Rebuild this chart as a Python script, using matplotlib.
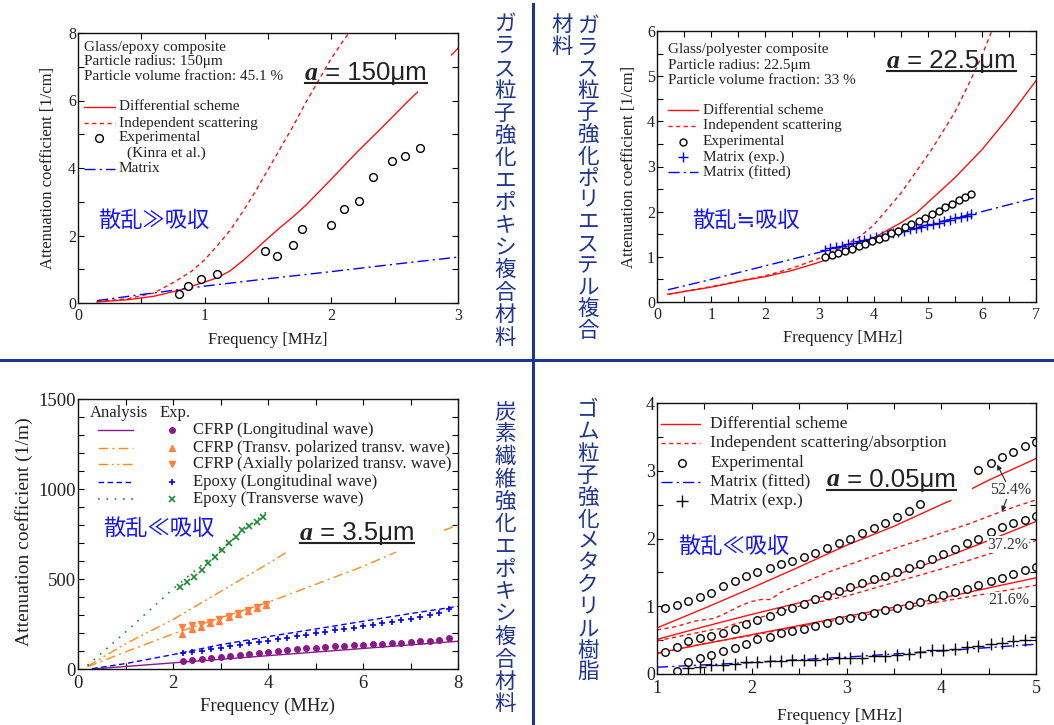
import numpy as np
import matplotlib
matplotlib.use("Agg")
import matplotlib.pyplot as plt
from matplotlib.lines import Line2D
from matplotlib.ticker import MultipleLocator

nan = np.nan

# ---- glass / epoxy (top left) ----
ge_exp_f = [0.80, 0.87, 0.97, 1.10, 1.48, 1.57, 1.70, 1.77, 2.00, 2.10, 2.22, 2.33, 2.48, 2.58, 2.70]
ge_exp_a = [0.27, 0.50, 0.70, 0.86, 1.55, 1.40, 1.72, 2.20, 2.30, 2.80, 3.03, 3.73, 4.20, 4.37, 4.58]
# line is hidden behind the size label between 2.7 and 2.95
ge_diff_f = [0.15, 0.4, 0.6, 0.8, 1.0, 1.1, 1.2, 1.3, 1.4, 1.5, 1.6, 1.7, 1.8, 2.0, 2.2, 2.4, 2.6, 2.68, nan, 2.95, 3.0]
ge_diff_a = [0.03, 0.10, 0.20, 0.38, 0.62, 0.75, 0.95, 1.25, 1.58, 1.92, 2.25, 2.56, 2.90, 3.67, 4.46, 5.20, 5.96, 6.25, nan, 7.35, 7.55]
ge_ind_f = [0.15, 0.4, 0.6, 0.76, 0.9, 1.0, 1.1, 1.2, 1.3, 1.4, 1.5, 1.6, 1.7, 1.8, 1.9, 2.0, 2.1, 2.16]
ge_ind_a = [0.04, 0.13, 0.30, 0.62, 0.95, 1.28, 1.70, 2.15, 2.70, 3.30, 3.95, 4.60, 5.25, 5.95, 6.60, 7.25, 7.80, 8.10]
ge_mat_f = [0.15, 0.5, 1.0, 1.5, 2.0, 2.5, 3.0]
ge_mat_a = [0.07, 0.25, 0.50, 0.72, 0.93, 1.15, 1.36]

# ---- glass / polyester (top right) ----
gp_exp_f = [3.11, 3.23, 3.35, 3.48, 3.60, 3.73, 3.85, 3.97, 4.10, 4.21, 4.33, 4.46, 4.58, 4.70, 4.83,
            4.95, 5.07, 5.20, 5.32, 5.44, 5.57, 5.69, 5.80]
gp_exp_a = [1.00, 1.05, 1.08, 1.12, 1.18, 1.23, 1.28, 1.35, 1.40, 1.45, 1.52, 1.58, 1.65, 1.72, 1.80,
            1.86, 1.94, 2.02, 2.10, 2.18, 2.25, 2.32, 2.40]
gp_mexp_f = [3.10, 3.20, 3.31, 3.41, 3.52, 3.62, 3.73, 3.83, 3.94, 4.04, 4.15, 4.25, 4.36, 4.46,
             4.57, 4.67, 4.78, 4.88, 4.99, 5.09, 5.20, 5.30, 5.41, 5.51, 5.62, 5.72, 5.80]
gp_mexp_a = [1.16, 1.19, 1.22, 1.25, 1.28, 1.31, 1.34, 1.37, 1.40, 1.43, 1.46, 1.49, 1.52, 1.55,
             1.58, 1.61, 1.64, 1.67, 1.70, 1.73, 1.76, 1.79, 1.82, 1.85, 1.88, 1.91, 1.95]
gp_diff_f = [0.2, 1.0, 1.7, 2.0, 2.5, 3.0, 3.5, 4.0, 4.5, 4.8, 5.0, 5.5, 6.0, 6.5, 7.0]
gp_diff_a = [0.17, 0.33, 0.50, 0.56, 0.70, 0.88, 1.12, 1.42, 1.75, 1.98, 2.20, 2.75, 3.37, 4.10, 4.90]
gp_ind_f = [0.2, 1.0, 2.0, 2.5, 3.0, 3.5, 3.75, 4.0, 4.5, 5.07, 5.5, 5.78, 6.0, 6.2]
gp_ind_a = [0.17, 0.34, 0.58, 0.75, 0.97, 1.27, 1.45, 1.70, 2.40, 3.37, 4.20, 4.88, 5.45, 6.05]
gp_mfit_f = [0.2, 1.0, 2.0, 3.0, 4.0, 5.0, 6.0, 7.0]
gp_mfit_a = [0.27, 0.50, 0.80, 1.10, 1.41, 1.71, 2.00, 2.31]

# ---- CFRP (bottom left) ----
cf_grid = [2.2, 2.4, 2.6, 2.8, 3.0, 3.2, 3.4, 3.6, 3.8, 4.0, 4.2, 4.4, 4.6, 4.8, 5.0, 5.2, 5.4,
           5.6, 5.8, 6.0, 6.2, 6.4, 6.6, 6.8, 7.0, 7.2, 7.4, 7.6, 7.8]
cf_long_f = [0.3, 2.0, 4.0, 6.0, 8.0]
cf_long_a = [0, 34, 74, 114, 154]
cf_long_exp = [44, 50, 56, 62, 68, 74, 80, 86, 91, 96, 101, 106, 111, 115, 119, 123, 126, 129, 132,
               135, 138, 141, 144, 147, 150, 153, 157, 163, 172]
cf_tr_f = [0.2, 1.0, 2.0, 3.0, 4.0, 5.0, 6.0, 6.7, nan, 7.7, 8.0]
cf_tr_a = [12, 95, 195, 285, 370, 470, 570, 650, nan, 770, 800]
cf_ax_f = [0.2, 1.0, 2.0, 3.0, 4.0, 4.4]
cf_ax_a = [15, 140, 275, 430, 585, 650]
cf_texp_f = [2.18, 2.39, 2.58, 2.78, 2.97, 3.18, 3.37, 3.57, 3.76, 3.95]
cf_tr_exp = [195, 222, 232, 255, 268, 287, 305, 325, 340, 357]
cf_ax_exp = [235, 245, 252, 263, 276, 294, 312, 330, 345, 362]
ep_long_f = [0.3, 1.0, 2.0, 3.0, 4.0, 5.0, 6.0, 7.0, 8.0]
ep_long_a = [2, 30, 80, 135, 180, 222, 265, 308, 348]
ep_long_exp = [88, 95, 102, 110, 118, 126, 134, 142, 150, 158, 166, 174, 182, 190, 198, 206, 214,
               222, 230, 238, 246, 254, 262, 270, 280, 290, 300, 312, 332]
ep_tr_f = [0.2, 1.0, 2.0, 3.0, 4.0]
ep_tr_a = [20, 205, 445, 665, 880]
ep_tr_exp_f = [2.15, 2.30, 2.45, 2.60, 2.74, 2.88, 3.03, 3.18, 3.32, 3.46, 3.61, 3.76, 3.90]
ep_tr_exp_a = [457, 485, 513, 550, 587, 624, 661, 698, 735, 772, 796, 818, 843]

# ---- rubber / methacrylate (bottom right) ----
rb_grid = [1.08, 1.21, 1.33, 1.45, 1.57, 1.70, 1.82, 1.94, 2.06, 2.19, 2.31, 2.43, 2.55, 2.67, 2.79,
           2.92, 3.04, 3.16, 3.29, 3.41, 3.53, 3.66, 3.78, 3.90, 4.02, 4.15, 4.27, 4.39, 4.52, 4.64,
           4.76, 4.88, 5.00]
# points between 3.9 and 4.3 are hidden behind the size label
rb52_f = [1.08, 1.21, 1.33, 1.45, 1.57, 1.70, 1.82, 1.94, 2.06, 2.19, 2.31, 2.43, 2.55, 2.67, 2.79,
          2.92, 3.04, 3.16, 3.29, 3.41, 3.53, 3.66, 3.78, 4.39, 4.52, 4.64, 4.76, 4.88, 5.00]
rb52_a = [0.97, 1.02, 1.08, 1.14, 1.20, 1.30, 1.37, 1.44, 1.50, 1.56, 1.62, 1.67, 1.73, 1.79, 1.86,
          1.93, 2.00, 2.08, 2.16, 2.23, 2.31, 2.41, 2.51, 3.01, 3.11, 3.20, 3.27, 3.36, 3.43]
rb37_a = [0.33, 0.40, 0.48, 0.53, 0.56, 0.60, 0.66, 0.74, 0.80, 0.86, 0.93, 0.98, 1.04, 1.10, 1.16,
          1.22, 1.28, 1.34, 1.40, 1.45, 1.50, 1.56, 1.63, 1.70, 1.77, 1.85, 1.93, 2.00, 2.09, 2.17,
          2.23, 2.28, 2.33]
rb21_a = [0.05, 0.17, 0.23, 0.28, 0.34, 0.39, 0.45, 0.51, 0.55, 0.60, 0.64, 0.67, 0.71, 0.75, 0.79,
          0.83, 0.86, 0.90, 0.94, 0.97, 1.02, 1.07, 1.12, 1.16, 1.21, 1.26, 1.32, 1.37, 1.42, 1.47,
          1.53, 1.58]
rb_mexp_a = [0.09, 0.11, 0.13, 0.14, 0.15, 0.17, 0.18, 0.19, 0.19, 0.20, 0.21, 0.21, 0.22, 0.23,
             0.23, 0.24, 0.26, 0.27, 0.28, 0.30, 0.32, 0.35, 0.36, 0.37, 0.40, 0.42, 0.44, 0.46,
             0.48, 0.50, 0.54]
rb_mfit_f = [1.0, 2.0, 3.0, 4.0, 5.0]
rb_mfit_a = [0.10, 0.17, 0.25, 0.34, 0.44]
rb_diff_f = [[1.0, 1.5, 2.0, 2.5, 3.0, 3.5, 4.0, 4.1, nan, 4.33, 4.5, 5.0],
             [1.0, 1.5, 2.0, 2.5, 3.0, 3.5, 4.0, 4.5, 5.0],
             [1.0, 2.0, 3.0, 4.0, 5.0]]
rb_diff_a = [[0.68, 0.97, 1.27, 1.58, 1.90, 2.18, 2.50, 2.56, nan, 2.74, 2.86, 3.18],
             [0.51, 0.70, 0.88, 1.05, 1.23, 1.45, 1.70, 1.97, 2.25],
             [0.31, 0.58, 0.85, 1.12, 1.42]]
rb_ind_f = [[1.0, 1.2, 1.4, 1.5, 1.6, 1.7, 1.8, 1.9, 2.0, 2.1, 2.2, 2.3, 2.5, 2.8, 3.0, 3.5, 4.0, 4.3, 4.6, 4.8, 5.0],
            [1.0, 1.5, 1.6, 1.7, 1.8, 2.0, 2.5, 3.0, 3.5, 4.0, 4.5, 5.0],
            [1.0, 1.5, 2.0, 2.5, 3.0, 3.5, 4.0, 4.5, 5.0]]
rb_ind_a = [[0.65, 0.70, 0.78, 0.80, 0.82, 0.88, 0.95, 1.02, 1.07, 1.10, 1.10, 1.20, 1.32, 1.50, 1.60, 1.85, 2.08, 2.22, 2.38, 2.48, 2.57],
            [0.49, 0.63, 0.66, 0.67, 0.73, 0.80, 1.00, 1.15, 1.35, 1.55, 1.77, 1.97],
            [0.30, 0.45, 0.57, 0.70, 0.82, 0.95, 1.07, 1.19, 1.31]]
rb_fractions = ["52.4%", "37.2%", "21.6%"]
rb_frac_pos = [(4.73, 2.71), (4.70, 1.91), (4.71, 1.09)]

W, H = 1054, 725
SERIF = "Liberation Serif"
SANS = "Liberation Sans"
CJK = ["Noto Sans CJK JP", "DejaVu Sans"]
NAVY = "#1f3590"
JPBLUE = "#1414ff"
RED = "#ff1010"
BLUE = "#0000ff"
INK = "#222222"

plt.rcParams["font.family"] = [SERIF, "DejaVu Serif"]

fig = plt.figure(figsize=(W / 100, H / 100), dpi=100)

# pixel boxes of the four plot frames: left, top, right, bottom
boxes = {"ge": (78, 33, 458, 303), "gp": (657, 31, 1036, 302),
         "cf": (78, 399, 458, 669), "rb": (657, 403, 1036, 674)}


def make_ax(box):
    l, t, r, b = box
    return fig.add_axes([l / W, 1 - b / H, (r - l) / W, (b - t) / H])


def frac(box, x, y):
    l, t, r, b = box
    return (x - l) / (r - l), (b - y) / (b - t)


def style_ax(ax, fs, xmaj, xmin, ymaj, ymin, xpad, ypad):
    ax.xaxis.set_major_locator(MultipleLocator(xmaj))
    ax.xaxis.set_minor_locator(MultipleLocator(xmin))
    ax.yaxis.set_major_locator(MultipleLocator(ymaj))
    ax.yaxis.set_minor_locator(MultipleLocator(ymin))
    ax.tick_params(which="both", direction="in", top=True, right=True,
                   length=4.5, width=0.8, labelsize=fs, labelcolor=INK)
    ax.tick_params(axis="x", pad=xpad)
    ax.tick_params(axis="y", pad=ypad)
    for s in ax.spines.values():
        s.set_linewidth(1.0)
        s.set_color("#111111")


def leg_line(ax, box, x0, x1, y, **kw):
    fx0, fy = frac(box, x0, y)
    fx1, _ = frac(box, x1, y)
    ax.add_line(Line2D([fx0, fx1], [fy, fy], transform=ax.transAxes, **kw))


def leg_mark(ax, box, x, y, **kw):
    fx, fy = frac(box, x, y)
    ax.add_line(Line2D([fx], [fy], transform=ax.transAxes, linestyle="none", **kw))


def put_text(ax, box, x, y, s, **kw):
    fx, fy = frac(box, x, y)
    kw.setdefault("va", "center")
    kw.setdefault("color", INK)
    ax.text(fx, fy, s, transform=ax.transAxes, **kw)


def size_label(ax, box, x, y_base, value, fs=18.5):
    # bold italic "a" in serif, the rest in sans, underlined
    fx, fy = frac(box, x, y_base)
    t1 = ax.text(fx, fy, "a", transform=ax.transAxes, fontsize=fs, family=SERIF,
                 weight="bold", style="italic", va="baseline", color=INK, zorder=6)
    r = fig.canvas.get_renderer()
    inv = ax.transAxes.inverted()
    bb1 = t1.get_window_extent(r)
    fx2 = inv.transform((bb1.x1, 0))[0]
    t2 = ax.text(fx2, fy, " = " + value, transform=ax.transAxes, fontsize=fs,
                 family=SANS, va="baseline", color=INK, zorder=6)
    bb2 = t2.get_window_extent(r)
    ux0 = inv.transform((bb1.x0, 0))[0]
    ux1 = inv.transform((bb2.x1, 0))[0]
    uy = frac(box, 0, y_base + 3)[1]
    ax.add_line(Line2D([ux0, ux1], [uy, uy], transform=ax.transAxes, color=INK, lw=1.5))


def jp_note(ax, box, x, y, s):
    put_text(ax, box, x, y, s, fontsize=16, family=CJK, color=JPBLUE)


def vcol(x, y0, step, s):
    for i, ch in enumerate(s):
        fig.text(x / W, 1 - (y0 + i * step) / H, ch, ha="center", va="center",
                 fontsize=15.5, family=CJK, color=NAVY)


# ================= panel 1 =================
b = boxes["ge"]
ax = make_ax(b)
ax.plot(ge_diff_f, ge_diff_a, color=RED, lw=1.0)
ax.plot(ge_ind_f, ge_ind_a, color=RED, lw=1.0, ls=(0, (3, 2.5)))
ax.plot(ge_mat_f, ge_mat_a, color=BLUE, lw=1.0, ls=(0, (8, 3, 1.5, 3)))
ax.plot(ge_exp_f, ge_exp_a, ls="none", marker="o", ms=5.6, mfc="white", mec="black", mew=1.0)
ax.set_xlim(0, 3)
ax.set_ylim(0, 8)
style_ax(ax, 11.5, 1, 0.5, 2, 1, 3.5, 1.5)
ax.set_xlabel("Frequency [MHz]", fontsize=12, color=INK)
ax.set_ylabel("Attenuation coefficient [1/cm]", fontsize=12, color=INK)
ax.xaxis.set_label_coords(0.5, -0.107)
ax.yaxis.set_label_coords(-0.058, 0.5)
for yy, s in zip([47, 62, 77], ["Glass/epoxy composite", "Particle radius: 150μm",
                                "Particle volume fraction: 45.1 %"]):
    put_text(ax, b, 84, yy, s, fontsize=11)
leg_line(ax, b, 84, 115, 107, color=RED, lw=1.0)
leg_line(ax, b, 84, 115, 123, color=RED, lw=1.0, ls=(0, (3, 2.5)))
leg_mark(ax, b, 99, 138, marker="o", ms=5.6, mfc="white", mec="black", mew=1.0)
leg_line(ax, b, 84, 115, 169, color=BLUE, lw=1.0, ls=(0, (8, 3, 1.5, 3)))
for yy, xx, s in zip([107, 123, 138, 153, 169], [119, 119, 119, 127, 119],
                     ["Differential scheme", "Independent scattering", "Experimental",
                      "(Kinra et al.)", "Matrix"]):
    put_text(ax, b, xx, yy, s, fontsize=11)
size_label(ax, b, 305, 80, "150μm")
jp_note(ax, b, 98, 220, "散乱≫吸収")

# ================= panel 2 =================
b = boxes["gp"]
ax = make_ax(b)
ax.plot(gp_diff_f, gp_diff_a, color=RED, lw=1.0)
ax.plot(gp_ind_f, gp_ind_a, color=RED, lw=1.0, ls=(0, (3, 2.5)))
ax.plot(gp_mfit_f, gp_mfit_a, color=BLUE, lw=1.0, ls=(0, (8, 3, 1.5, 3)))
ax.plot(gp_mexp_f, gp_mexp_a, ls="none", marker="+", ms=7, mec=BLUE, mew=1.0)
ax.plot(gp_exp_f, gp_exp_a, ls="none", marker="o", ms=5.0, mfc="white", mec="black", mew=1.0)
ax.set_xlim(0, 7)
ax.set_ylim(0, 6)
style_ax(ax, 11.5, 1, 0.5, 1, 0.5, 3.5, 1.5)
ax.set_xlabel("Frequency [MHz]", fontsize=12, color=INK)
ax.set_ylabel("Attenuation coefficient [1/cm]", fontsize=12, color=INK)
ax.xaxis.set_label_coords(0.49, -0.103)
ax.yaxis.set_label_coords(-0.053, 0.5)
for yy, s in zip([50, 65, 80], ["Glass/polyester composite", "Particle radius: 22.5μm",
                                "Particle volume fraction: 33 %"]):
    put_text(ax, b, 668, yy, s, fontsize=11)
leg_line(ax, b, 668, 698, 110, color=RED, lw=1.0)
leg_line(ax, b, 668, 698, 126, color=RED, lw=1.0, ls=(0, (3, 2.5)))
leg_mark(ax, b, 683, 142, marker="o", ms=5.0, mfc="white", mec="black", mew=1.0)
leg_mark(ax, b, 683, 157, marker="+", ms=7, mec=BLUE, mew=1.0)
leg_line(ax, b, 668, 698, 172, color=BLUE, lw=1.0, ls=(0, (8, 3, 1.5, 3)))
for yy, s in zip([110, 126, 142, 157, 172], ["Differential scheme", "Independent scattering",
                                             "Experimental", "Matrix (exp.)", "Matrix (fitted)"]):
    put_text(ax, b, 703, yy, s, fontsize=11)
size_label(ax, b, 887, 68, "22.5μm")
jp_note(ax, b, 692, 220, "散乱≒吸収")

# ================= panel 3 =================
b = boxes["cf"]
ax = make_ax(b)
PURPLE = "#8a1a8a"
ORANGE = "#ff8c1a"
CORAL = "#ff7f40"
GREEN = "#1e8c2e"
ls_tr = (0, (7, 3, 1.5, 3))
ls_ax = (0, (7, 2.5, 1.5, 2.5, 1.5, 2.5))
ax.plot(cf_long_f, cf_long_a, color=PURPLE, lw=1.0)
ax.plot(cf_tr_f, cf_tr_a, color=ORANGE, lw=1.0, ls=ls_tr)
ax.plot(cf_ax_f, cf_ax_a, color=ORANGE, lw=1.0, ls=ls_ax)
ax.plot(ep_long_f, ep_long_a, color=BLUE, lw=1.0, ls=(0, (4, 2.5)))
ax.plot(ep_tr_f, ep_tr_a, color=GREEN, lw=1.2, ls=(0, (1, 4)))
ax.plot(cf_grid, cf_long_exp, ls="none", marker="o", ms=4.0, mfc=PURPLE, mec=PURPLE)
ax.plot(cf_texp_f, cf_tr_exp, ls="none", marker="^", ms=5.0, mfc=CORAL, mec=CORAL)
ax.plot(cf_texp_f, cf_ax_exp, ls="none", marker="v", ms=5.0, mfc=CORAL, mec=CORAL)
ax.plot(cf_grid, ep_long_exp, ls="none", marker="+", ms=5.0, mec=BLUE, mew=1.2)
ax.plot(ep_tr_exp_f, ep_tr_exp_a, ls="none", marker="x", ms=4.5, mec=GREEN, mew=1.2)
ax.set_xlim(0, 8)
ax.set_ylim(0, 1500)
style_ax(ax, 13.5, 2, 1, 500, 100, 4.5, 1.5)
ax.set_xlabel("Frequency (MHz)", fontsize=13.5, color=INK)
ax.set_ylabel("Attenuation coefficient (1/m)", fontsize=14, color=INK)
ax.xaxis.set_label_coords(0.5, -0.107)
ax.yaxis.set_label_coords(-0.118, 0.51)
put_text(ax, b, 90, 413, "Analysis", fontsize=12)
put_text(ax, b, 160, 413, "Exp.", fontsize=12)
rows = [430, 447.7, 464.3, 481.7, 499]
leg_line(ax, b, 98, 133, rows[0], color=PURPLE, lw=1.0)
leg_line(ax, b, 98, 133, rows[1], color=ORANGE, lw=1.0, ls=ls_tr)
leg_line(ax, b, 98, 133, rows[2], color=ORANGE, lw=1.0, ls=ls_ax)
leg_line(ax, b, 98, 133, rows[3], color=BLUE, lw=1.0, ls=(0, (4, 2.5)))
leg_line(ax, b, 98, 133, rows[4], color=GREEN, lw=1.2, ls=(0, (1, 4)))
leg_mark(ax, b, 172, rows[0], marker="o", ms=4.0, mfc=PURPLE, mec=PURPLE)
leg_mark(ax, b, 172, rows[1], marker="^", ms=5.0, mfc=CORAL, mec=CORAL)
leg_mark(ax, b, 172, rows[2], marker="v", ms=5.0, mfc=CORAL, mec=CORAL)
leg_mark(ax, b, 172, rows[3], marker="+", ms=5.0, mec=BLUE, mew=1.2)
leg_mark(ax, b, 172, rows[4], marker="x", ms=4.5, mec=GREEN, mew=1.2)
for yy, s in zip(rows, ["CFRP (Longitudinal wave)", "CFRP (Transv. polarized transv. wave)",
                        "CFRP (Axially polarized transv. wave)", "Epoxy (Longitudinal wave)",
                        "Epoxy (Transverse wave)"]):
    put_text(ax, b, 193, yy, s, fontsize=12)
size_label(ax, b, 300, 540, "3.5μm")
jp_note(ax, b, 103, 528, "散乱≪吸収")

# ================= panel 4 =================
b = boxes["rb"]
ax = make_ax(b)
for df, da in zip(rb_diff_f, rb_diff_a):
    ax.plot(df, da, color=RED, lw=1.0)
for inf, ina in zip(rb_ind_f, rb_ind_a):
    ax.plot(inf, ina, color=RED, lw=1.0, ls=(0, (3, 2.5)))
ax.plot(rb_mfit_f, rb_mfit_a, color=BLUE, lw=1.0, ls=(0, (8, 3, 1.5, 3)))
ax.plot(rb_grid[2:], rb_mexp_a, ls="none", marker="+", ms=8, mec="black", mew=1.0)
circ = dict(ls="none", marker="o", ms=5.4, mfc="white", mec="black", mew=1.0)
ax.plot(rb52_f, rb52_a, **circ)
ax.plot(rb_grid, rb37_a, **circ)
ax.plot(rb_grid[1:], rb21_a, **circ)
for s, (px, py) in zip(rb_fractions, rb_frac_pos):
    ax.text(px, py, s, ha="center", va="center", fontsize=11.5, color="#333333", zorder=5,
            bbox=dict(facecolor="white", edgecolor="none", pad=0.3))
ax.annotate("", xy=(4.59, 3.09), xytext=(4.68, 2.84),
            arrowprops=dict(arrowstyle="-|>", color=INK, lw=0.8, mutation_scale=7,
                            shrinkA=0, shrinkB=0))
ax.annotate("", xy=(4.64, 2.40), xytext=(4.70, 2.62),
            arrowprops=dict(arrowstyle="-|>", color=INK, lw=0.8, mutation_scale=7,
                            shrinkA=0, shrinkB=0))
ax.set_xlim(1, 5)
ax.set_ylim(0, 4)
style_ax(ax, 13, 1, 0.5, 1, 0.5, 4, 1.5)
ax.set_xlabel("Frequency [MHz]", fontsize=12.5, color=INK)
ax.xaxis.set_label_coords(0.483, -0.125)
rows = [424, 443.3, 462.7, 481.7, 501]
leg_line(ax, b, 661, 700, rows[0], color=RED, lw=1.0)
leg_line(ax, b, 661, 700, rows[1], color=RED, lw=1.0, ls=(0, (3, 2.5)))
leg_mark(ax, b, 682, rows[2], **circ)
leg_line(ax, b, 661, 700, rows[3], color=BLUE, lw=1.0, ls=(0, (8, 3, 1.5, 3)))
leg_mark(ax, b, 682, rows[4], marker="+", ms=8, mec="black", mew=1.0)
for yy, s in zip(rows, ["Differential scheme", "Independent scattering/absorption",
                        "Experimental", "Matrix (fitted)", "Matrix (exp.)"]):
    put_text(ax, b, 710, yy, s, fontsize=12.5)
size_label(ax, b, 827, 486.5, "0.05μm")
jp_note(ax, b, 678, 546, "散乱≪吸収")

# ================= dividers and vertical captions =================
fig.add_artist(Line2D([0, 1], [1 - 360 / H, 1 - 360 / H], transform=fig.transFigure,
                      color=NAVY, lw=2.2))
fig.add_artist(Line2D([533 / W, 533 / W], [0, 0.995], transform=fig.transFigure,
                      color=NAVY, lw=2.2))
vcol(505, 24, 22.4, "ガラス粒子強化エポキシ複合材料")
vcol(588, 26, 21.8, "ガラス粒子強化ポリエステル複合")
vcol(562, 25, 21.8, "材料")
vcol(505, 412, 22.5, "炭素繊維強化エポキシ複合材料")
vcol(588, 410, 21.9, "ゴム粒子強化メタクリル樹脂")

fig.savefig("out.png", dpi=100)
